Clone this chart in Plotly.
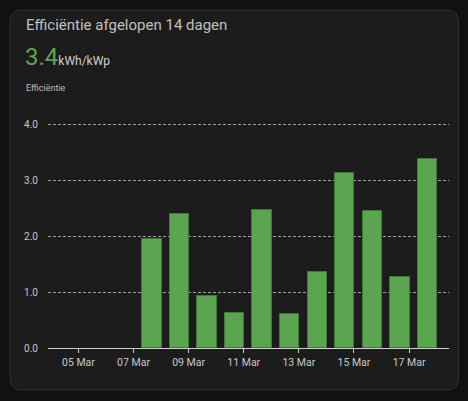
import plotly.graph_objects as go
import pandas as pd

# daily efficiency, last 14 days (kWh/kWp)
dates = ["2024-03-04", "2024-03-05", "2024-03-06", "2024-03-07", "2024-03-08",
         "2024-03-09", "2024-03-10", "2024-03-11", "2024-03-12", "2024-03-13",
         "2024-03-14", "2024-03-15", "2024-03-16", "2024-03-17"]
efficiency = [0, 0, 0, 1.95, 2.40, 0.93, 0.63, 2.47, 0.60, 1.35, 3.13, 2.45, 1.26, 3.37]
current_value = "3.4"
unit = "kWh/kWp"
title = "Efficiëntie afgelopen 14 dagen"
series_name = "Efficiëntie"
y_ticks = [0, 1, 2, 3, 4]

W, H = 468, 401
L, R, T, B = 48, 19, 123, 53  # plot area margins in px
day_ms = 86400000

x_dates = pd.to_datetime(dates)
bar_x = x_dates + pd.Timedelta(hours=16)


def px(x):
  return (x - L) / (W - L - R)


def py(y):
  return (H - B - y) / (H - T - B)


fig = go.Figure()

fig.add_trace(
  go.Bar(
    x=bar_x,
    y=efficiency,
    width=0.7 * day_ms,
    name=series_name,
    marker=dict(color="#5ca550",
                line=dict(color="#3f7a36", width=[1 if v > 0 else 0 for v in efficiency])),
    hovertemplate="%{x}: %{y}<extra></extra>"
  )
)

# card background with rounded corners
x0, x1, y0, y1, r = 10, 458.5, 10, 390, 12
rx = r / (W - L - R)
ry = r / (H - T - B)
a, b, c, d = px(x0), px(x1), py(y0), py(y1)
path = (f"M {a + rx},{c} L {b - rx},{c} Q {b},{c} {b},{c - ry} "
        f"L {b},{d + ry} Q {b},{d} {b - rx},{d} L {a + rx},{d} "
        f"Q {a},{d} {a},{d + ry} L {a},{c - ry} Q {a},{c} {a + rx},{c} Z")

fig.add_shape(type="path", path=path, xref="paper", yref="paper",
              fillcolor="#1c1c1c", line=dict(color="#2f2f2f", width=1), layer="below")

fig.add_annotation(text=title, x=px(24), y=py(36), xref="paper", yref="paper",
                   xanchor="left", yanchor="bottom", showarrow=False,
                   font=dict(size=15, color="#c0c0c0"))
fig.add_annotation(text=f"<span style='font-size:24px;color:#5ca550'>{current_value}</span>"
                        f"<span style='font-size:12px;color:#cfcfcf'>{unit}</span>",
                   x=px(23), y=py(73), xref="paper", yref="paper",
                   xanchor="left", yanchor="bottom", showarrow=False)
fig.add_annotation(text=series_name, x=px(24), y=py(95), xref="paper", yref="paper",
                   xanchor="left", yanchor="bottom", showarrow=False,
                   font=dict(size=9, color="#bdbdbd"))

fig.update_layout(
  width=W,
  height=H,
  margin=dict(l=L, r=R, t=T, b=B, pad=0),
  paper_bgcolor="#111111",
  plot_bgcolor="rgba(0,0,0,0)",
  font=dict(family="Roboto", color="#c8c8c8"),
  showlegend=False,
  bargap=0,
  xaxis=dict(
    type="date",
    range=[x_dates[0] - pd.Timedelta(hours=2.5), x_dates[-1] + pd.Timedelta(hours=34.8)],
    tick0="2024-03-05",
    dtick=2 * day_ms,
    tickformat="%d %b",
    showgrid=False,
    showline=True,
    linecolor="#d0d0d0",
    linewidth=1,
    ticks="outside",
    ticklen=4,
    tickcolor="#d0d0d0",
    tickfont=dict(size=10.5, color="#c8c8c8"),
    zeroline=False,
  ),
  yaxis=dict(
    range=[0, 4.02],
    tickvals=y_ticks,
    tickformat=".1f",
    showgrid=True,
    gridcolor="#a0a0a0",
    griddash="3px,2px",
    gridwidth=1,
    zeroline=False,
    showline=False,
    ticks="",
    ticklabelstandoff=9,
    tickfont=dict(size=10, color="#c8c8c8"),
  ),
)

fig.write_html("out.html",
               config={"displayModeBar": False},
               post_script="document.body.style.margin='0';")
